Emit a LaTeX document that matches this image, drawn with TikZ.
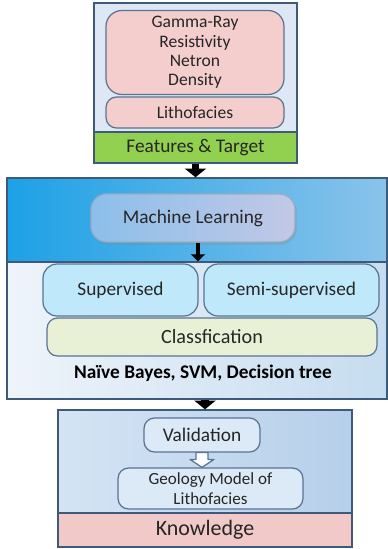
\documentclass[tikz,border=0pt]{standalone}
\usepackage{fontspec}
\setmainfont{Carlito}
\usetikzlibrary{arrows.meta, positioning, calc, shadows}

\definecolor{panelline}{HTML}{3E5A78}
\definecolor{boxline}{HTML}{5A7392}
\definecolor{topfill}{HTML}{DDE8F4}
\definecolor{featpink}{HTML}{F4CDCD}
\definecolor{targetgreen}{HTML}{92D050}
\definecolor{mlleft}{HTML}{1DA1E6}
\definecolor{mlright}{HTML}{8AC3EA}
\definecolor{mlboxleft}{HTML}{8CBFEA}
\definecolor{mlboxright}{HTML}{C2C8E6}
\definecolor{lowleft}{HTML}{EEF4FA}
\definecolor{lowright}{HTML}{C6DCF0}
\definecolor{supfill}{HTML}{BFE8FA}
\definecolor{clsfill}{HTML}{E8F1D6}
\definecolor{kleft}{HTML}{D4E4F4}
\definecolor{kright}{HTML}{B6CFEA}
\definecolor{valfill}{HTML}{DCEAF7}
\definecolor{knowpink}{HTML}{F1C9C9}

\begin{document}
\begin{tikzpicture}[
    x=0.02cm, y=-0.02cm,
    every node/.style={font=\fontsize{11}{12}\selectfont, text=black!85},
    panel/.style={draw=panelline, line width=0.8pt, inner sep=0pt},
    softbox/.style={draw=boxline, line width=0.7pt, rounded corners=6pt,
      inner sep=0pt, align=center},
    bigarrow/.style={-{Triangle[width=12pt, length=5pt]}, line width=4pt, black},
    smallarrow/.style={-{Triangle[width=8pt, length=4pt]}, line width=2.5pt, black},
    hollowarrow/.style={draw=boxline, fill=white, line width=0.7pt, line join=round},
  ]
  \useasboundingbox (0,0) rectangle (388,549);

  % input block
  \node[panel, fill=topfill, minimum width=4.06cm, minimum height=3.2cm]
    (topbox) at (195.5,83) {};
  \node[softbox, fill=featpink, minimum width=3.56cm, minimum height=1.68cm,
    rounded corners=9pt, font=\fontsize{10}{11}\selectfont]
    (feat) at (195,52.5) {Gamma-Ray\\Resistivity\\Netron\\Density};
  \node[softbox, fill=featpink, minimum width=3.56cm, minimum height=0.62cm,
    font=\fontsize{10}{11}\selectfont] (litho) at (195,112.5) {Lithofacies};
  \node[panel, fill=targetgreen, minimum width=4.06cm, minimum height=0.62cm]
    (target) at (195.5,147.5) {Features \& Target};

  % learning block
  \node[panel, left color=mlleft, right color=mlright, minimum width=7.6cm,
    minimum height=1.68cm] (mlpanel) at (197,220) {};
  \node[softbox, draw=boxline!60, left color=mlboxleft, right color=mlboxright,
    minimum width=4.08cm, minimum height=0.96cm, rounded corners=9pt,
    drop shadow={opacity=0.25, shadow xshift=1pt, shadow yshift=-1.5pt}]
    (ml) at (193,218) {Machine Learning};
  \node[panel, left color=lowleft, right color=lowright, minimum width=7.6cm,
    minimum height=2.74cm] (lowpanel) at (197,330.5) {};
  \node[softbox, fill=supfill, minimum width=3.1cm, minimum height=1.04cm,
    rounded corners=8pt] (sup) at (120.5,290) {Supervised};
  \node[softbox, fill=supfill, minimum width=3.5cm, minimum height=1.04cm,
    rounded corners=8pt] (semi) at (291.5,290) {Semi-supervised};
  \node[softbox, fill=clsfill, minimum width=6.6cm, minimum height=0.76cm,
    font=\fontsize{11.5}{12}\selectfont] (cls) at (212,337) {Classfication};
  \node[font=\fontsize{11}{12}\selectfont\bfseries, text=black]
    (algo) at (203,373) {Naïve Bayes, SVM, Decision tree};

  % knowledge block
  \node[panel, left color=kleft, right color=kright, minimum width=5.88cm,
    minimum height=2.74cm] (kbox) at (205,478.5) {};
  \node[softbox, fill=valfill, minimum width=2.32cm, minimum height=0.68cm]
    (val) at (202,435) {Validation};
  \node[softbox, fill=valfill, minimum width=3.7cm, minimum height=0.82cm,
    font=\fontsize{9.7}{11}\selectfont] (geo) at (210.5,488.5) {Geology Model of\\Lithofacies};
  \node[panel, fill=knowpink, minimum width=5.88cm, minimum height=0.68cm,
    font=\fontsize{12.5}{13}\selectfont] (know) at (205,530) {Knowledge};

  % arrows
  \draw[bigarrow] (target.south) -- (target.south |- mlpanel.north);
  \draw[smallarrow] ($(ml.south)+(5,0)$) -- ($(ml.south |- lowpanel.north)+(5,0)$);
  \draw[bigarrow] (kbox.north |- lowpanel.south) -- (kbox.north);
  \coordinate (va) at (val.south);
  \coordinate (vb) at (val.south |- geo.north);
  \draw[hollowarrow] ($(va)+(-6,0)$) -- ($(va)+(6,0)$) -- ($(vb)+(6,-8)$)
    -- ($(vb)+(12,-8)$) -- (vb) -- ($(vb)+(-12,-8)$) -- ($(vb)+(-6,-8)$) -- cycle;
\end{tikzpicture}
\end{document}
